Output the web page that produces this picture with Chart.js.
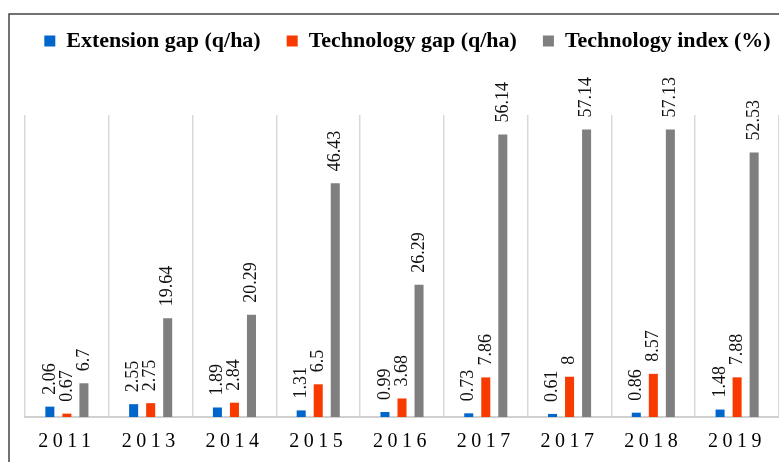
<!DOCTYPE html>
<html>
<head>
<meta charset="utf-8">
<script src="https://cdn.jsdelivr.net/npm/chart.js@4.4.1/dist/chart.umd.min.js"></script>
<style>
  html, body { margin: 0; padding: 0; background: #fff; }
  #wrap { width: 779px; height: 462px; position: relative; }
</style>
</head>
<body>
<div id="wrap"><canvas id="myChart"></canvas></div>
<script>
// values
const years = ['2011', '2013', '2014', '2015', '2016', '2017', '2017', '2018', '2019']
const extensionGap = [2.06, 2.55, 1.89, 1.31, 0.99, 0.73, 0.61, 0.86, 1.48]
const technologyGap = [0.67, 2.75, 2.84, 6.5, 3.68, 7.86, 8, 8.57, 7.88]
const technologyIndex = [6.7, 19.64, 20.29, 46.43, 26.29, 56.14, 57.14, 57.13, 52.53]

const serif = "'Liberation Serif', 'Times New Roman', serif"

// category axis with spaced-out year labels
class SpacedCategoryScale extends Chart.CategoryScale {
    static id = 'spacedCategory'
    drawLabels(area) {
        const ctx = this.ctx
        const prev = ctx.letterSpacing
        ctx.letterSpacing = '4.5px'
        super.drawLabels(area)
        ctx.letterSpacing = prev || '0px'
    }
}
Chart.register(SpacedCategoryScale)

// legend: room below it, and nudged a bit to the right like the original
const legendSpace = {
    id: 'legendSpace',
    beforeInit(chart) {
        const legend = chart.legend
        const fit = legend.fit
        const draw = legend.draw
        legend.fit = function () {
            fit.call(this)
            this.height += 53
        }
        legend.draw = function () {
            this.ctx.save()
            this.ctx.translate(18, 0)
            draw.call(this)
            this.ctx.restore()
        }
    }
}

// thin frame on top and left, like the original figure
const frame = {
    id: 'frame',
    beforeDraw(chart) {
        const ctx = chart.ctx
        ctx.save()
        ctx.strokeStyle = '#444'
        ctx.lineWidth = 1.5
        ctx.beginPath()
        ctx.moveTo(9, chart.height + 2)
        ctx.lineTo(9, 14)
        ctx.lineTo(chart.width + 2, 14)
        ctx.stroke()
        ctx.restore()
    }
}

// rotated value labels above every bar
const barLabels = {
    id: 'barLabels',
    afterDatasetsDraw(chart) {
        const ctx = chart.ctx
        ctx.save()
        ctx.font = `18px ${serif}`
        ctx.fillStyle = '#111'
        ctx.textAlign = 'left'
        ctx.textBaseline = 'middle'
        chart.data.datasets.forEach((ds, i) => {
            chart.getDatasetMeta(i).data.forEach((bar, j) => {
                ctx.save()
                ctx.translate(bar.x, bar.y - 12)
                ctx.rotate(-Math.PI / 2)
                ctx.fillText(String(ds.data[j]), 0, 0)
                ctx.restore()
            })
        })
        ctx.restore()
    }
}

const ctx = document.getElementById('myChart')

new Chart(ctx, {
    type: 'bar',
    data: {
        labels: years,
        datasets: [{
            label: 'Extension gap (q/ha)',
            data: extensionGap,
            backgroundColor: '#0066cc'
        }, {
            label: 'Technology gap (q/ha)',
            data: technologyGap,
            backgroundColor: '#f83a00'
        }, {
            label: 'Technology index (%)',
            data: technologyIndex,
            backgroundColor: '#7f7f7f'
        }]
    },
    options: {
        responsive: true,
        maintainAspectRatio: false,
        animation: false,
        categoryPercentage: 0.61,
        barPercentage: 0.53,
        layout: {
            padding: { left: 0, right: 0, top: 4, bottom: 0 }
        },
        plugins: {
            legend: {
                position: 'top',
                labels: {
                    color: '#000',
                    boxWidth: 11,
                    boxHeight: 11,
                    padding: 26,
                    font: { family: serif, size: 22, weight: 'bold' }
                }
            },
            tooltip: { enabled: false }
        },
        scales: {
            x: {
                type: 'spacedCategory',
                offset: true,
                grid: {
                    offset: true,
                    color: '#d9d9d9',
                    lineWidth: 1.5,
                    drawTicks: false
                },
                border: { color: '#d0d0d0', width: 2 },
                ticks: {
                    color: '#000',
                    padding: 13,
                    maxRotation: 0,
                    autoSkip: false,
                    font: { family: serif, size: 20 }
                },
                afterFit(scale) {
                    scale.height = 45
                }
            },
            y: {
                min: 0,
                max: 60,
                grid: { display: false },
                border: { display: false },
                ticks: { display: false },
                afterFit(scale) {
                    scale.width = 25
                }
            }
        }
    },
    plugins: [legendSpace, frame, barLabels]
})
</script>
</body>
</html>
